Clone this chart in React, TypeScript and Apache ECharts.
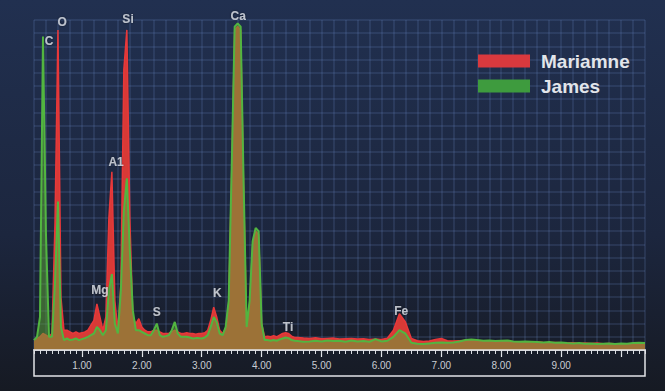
import React, { useEffect, useRef } from "react";
import * as echarts from "echarts";

// Energy channels (keV)
const ENERGY = [
  0.2, 0.25, 0.3, 0.35, 0.4, 0.45, 0.5, 0.55, 0.6, 0.65,
  0.7, 0.75, 0.8, 0.85, 0.9, 0.95, 1.0, 1.05, 1.1, 1.15,
  1.2, 1.25, 1.3, 1.35, 1.4, 1.45, 1.5, 1.55, 1.6, 1.65,
  1.7, 1.75, 1.8, 1.85, 1.9, 1.95, 2.0, 2.05, 2.1, 2.15,
  2.2, 2.25, 2.3, 2.35, 2.4, 2.45, 2.5, 2.55, 2.6, 2.65,
  2.7, 2.75, 2.8, 2.85, 2.9, 2.95, 3.0, 3.05, 3.1, 3.15,
  3.2, 3.25, 3.3, 3.35, 3.4, 3.45, 3.5, 3.55, 3.6, 3.65,
  3.7, 3.75, 3.8, 3.85, 3.9, 3.95, 4.0, 4.05, 4.1, 4.15,
  4.2, 4.25, 4.3, 4.35, 4.4, 4.45, 4.5, 4.55,
  4.6, 4.7, 4.8, 4.9, 5.0, 5.1, 5.2, 5.3, 5.4, 5.5,
  5.6, 5.7, 5.8, 5.9, 6.0, 6.1, 6.2, 6.3, 6.4, 6.5,
  6.6, 6.7, 6.8, 6.9, 7.0, 7.1, 7.2, 7.3, 7.4, 7.5,
  7.6, 7.7, 7.8, 7.9, 8.0, 8.1, 8.2, 8.3, 8.4, 8.5,
  8.6, 8.7, 8.8, 8.9, 9.0, 9.1, 9.2, 9.3, 9.4, 9.5,
  9.6, 9.7, 9.8, 9.9, 10.0, 10.1, 10.2, 10.3, 10.4,
];

const MARIAMNE = [
  3, 3.5, 4, 5, 4.5, 4, 5, 38, 97, 16,
  6, 6, 5.5, 5, 5.5, 5, 5.2, 5.5, 6, 7.5,
  9, 14, 10, 6, 10, 40, 54, 15, 6, 20,
  85, 97, 40, 10, 8, 9.5, 7, 6, 5.5, 5.5,
  6, 6, 5.5, 5, 5, 5, 5.5, 6, 5.5, 5,
  5, 5.2, 5, 5, 4.8, 5, 5, 5.2, 6, 9,
  13, 10, 6, 5, 6.5, 14, 54, 97, 98, 97,
  49, 6.5, 14, 32, 36, 35, 8, 4, 4.2, 4,
  4.3, 4, 4.5, 5, 5.2, 5, 4.2, 3.8,
  3.8, 3.6, 3.5, 3.7, 3.4, 3.5, 3.6, 3.3, 3.4, 3.5,
  3.3, 3.4, 3.2, 3.3, 3.2, 3.6, 6, 11, 8.5, 3.5,
  2.8, 2.6, 2.7, 3.2, 3.5, 2.8, 2.7, 2.8, 2.9, 2.8,
  2.7, 2.6, 2.6, 2.5, 2.6, 2.5, 2.4, 2.5, 2.4, 2.3,
  2.5, 2.3, 2.2, 2.3, 2.2, 2.1, 2.2, 2.0, 2.1, 2.0,
  2.1, 1.9, 2.0, 1.9, 1.8, 1.9, 1.8, 1.8, 1.8,
];

const JAMES = [
  3, 4, 10, 95, 35, 4, 4, 20, 45, 7,
  3, 3.5, 3, 3.2, 3.5, 3, 3.3, 3.6, 4, 4.5,
  5, 7, 6, 4.5, 6, 18, 23, 8, 5, 18,
  42, 52, 30, 12, 6, 6, 5.5, 5, 4.5, 4.5,
  6, 8, 4.5, 4, 4.2, 4.5, 6, 8.5, 5, 4,
  4, 4, 3.8, 3.5, 3.6, 3.6, 3.5, 3.8, 4.5, 7,
  10, 8.5, 5, 4.5, 7, 15, 55, 98, 99, 98,
  50, 7, 15, 33, 37, 36, 8, 3, 3, 2.8,
  3, 2.8, 3.2, 3.5, 3.8, 3.6, 3, 2.8,
  2.7, 2.5, 2.6, 2.8, 2.6, 2.9, 2.7, 2.8, 2.5, 2.9,
  2.6, 2.7, 2.5, 3.3, 2.6, 2.8, 4, 6, 5, 2.2,
  1.9, 1.8, 2, 2.2, 2.3, 2.2, 2.3, 2.6, 3.0, 3.2,
  3.0, 2.8, 2.9, 2.7, 2.8, 2.9, 2.6, 2.5, 2.6, 2.5,
  2.4, 2.3, 2.4, 2.2, 2.3, 2.1, 2.0, 2.1, 1.9, 2.0,
  1.8, 1.9, 2.0, 1.8, 2.0, 1.9, 2.1, 2.2, 2.1,
];

// Element labels (name, energy of label, height of label)
const PEAK_NAMES = ["C", "O", "Si", "Ca", "A1", "Mg", "S", "K", "Ti", "Fe"];
const PEAK_ENERGY = [0.45, 0.67, 1.77, 3.61, 1.57, 1.3, 2.25, 3.26, 4.44, 6.33];
const PEAK_LABEL_Y = [93.6, 99.4, 100.3, 101.2, 57, 18.2, 11.5, 17.3, 7, 11.8];

const TICK_LABELS = [1, 2, 3, 4, 5, 6, 7, 8, 9];
const MAJOR_TICKS = [1, 2, 3, 4, 5, 6, 7, 8, 9, 10];

const GRID_COLOR = "rgba(110,140,200,0.22)";
const FONT = "Liberation Sans, Arial, sans-serif";

export default function App() {
  const ref = useRef<HTMLDivElement>(null);

  useEffect(() => {
    document.body.style.margin = "0";
    const chart = echarts.init(ref.current!, null, { renderer: "svg" });
    const option: any = {
      animation: false,
      backgroundColor: {
        type: "linear",
        x: 0,
        y: 0,
        x2: 0,
        y2: 1,
        colorStops: [
          { offset: 0, color: "#213050" },
          { offset: 0.6, color: "#1c263e" },
          { offset: 1, color: "#161a23" },
        ],
      },
      grid: { left: 34, right: 20, top: 20, bottom: 41 },
      legend: {
        data: ["Mariamne", "James"],
        orient: "vertical",
        left: 473,
        top: 46,
        itemWidth: 52,
        itemHeight: 13,
        itemGap: 5,
        icon: "rect",
        textStyle: {
          color: "#e2e5ea",
          fontSize: 19,
          fontWeight: "bold",
          fontFamily: FONT,
          lineHeight: 20,
          padding: [0, 0, 0, 6],
        },
      },
      xAxis: [
        {
          type: "value",
          min: 0.2,
          max: 10.4,
          position: "bottom",
          axisLine: { show: true, lineStyle: { color: "#e4e6ea", width: 1.5 } },
          axisTick: {
            show: true,
            customValues: MAJOR_TICKS,
            length: 7,
            lineStyle: { color: "#e4e6ea", width: 1.2 },
          },
          axisLabel: {
            customValues: TICK_LABELS,
            formatter: (v: number) => v.toFixed(2),
            color: "#c9ccd3",
            fontSize: 10,
            margin: 10,
            fontFamily: FONT,
          },
          splitLine: { show: false },
        },
        {
          type: "value",
          min: 0.2,
          max: 10.4,
          interval: 0.2,
          position: "bottom",
          axisLine: { show: false },
          axisTick: { show: true, length: 4, lineStyle: { color: "#d8dbe0" } },
          minorTick: { show: true, splitNumber: 2, length: 4, lineStyle: { color: "#d8dbe0" } },
          axisLabel: { show: false },
          splitLine: { show: true, lineStyle: { color: GRID_COLOR, width: 1.5 } },
        },
      ],
      yAxis: {
        type: "value",
        min: 0,
        max: 100,
        interval: 4,
        axisLine: { show: false },
        axisTick: { show: false },
        axisLabel: { show: false },
        splitLine: { show: true, lineStyle: { color: GRID_COLOR, width: 1.5 } },
      },
      graphic: [
        {
          type: "rect",
          shape: { x: 34, y: 350, width: 611, height: 26 },
          style: { fill: "none", stroke: "#e2e4e8", lineWidth: 1.5 },
          z: 10,
        },
      ],
      series: [
        {
          name: "Mariamne",
          type: "line",
          xAxisIndex: 0,
          data: ENERGY.map((e, i) => [e, MARIAMNE[i]]),
          symbol: "none",
          lineStyle: { color: "#e8383a", width: 1.5 },
          itemStyle: { color: "#d9393e" },
          areaStyle: { color: "#d83a36", opacity: 1 },
          z: 2,
        },
        {
          name: "James",
          type: "line",
          xAxisIndex: 0,
          data: ENERGY.map((e, i) => [e, JAMES[i]]),
          symbol: "none",
          lineStyle: { color: "#52b540", width: 2 },
          itemStyle: { color: "#3e9b3e" },
          areaStyle: { color: "rgb(95,170,55)", opacity: 0.5 },
          z: 3,
        },
        {
          name: "labels",
          type: "scatter",
          xAxisIndex: 0,
          clip: false,
          silent: true,
          symbolSize: 1,
          itemStyle: { color: "rgba(0,0,0,0)" },
          data: PEAK_NAMES.map((n, i) => ({ name: n, value: [PEAK_ENERGY[i], PEAK_LABEL_Y[i]] })),
          label: {
            show: true,
            position: "inside",
            formatter: "{b}",
            color: "#dfe2e8",
            fontWeight: "bold",
            fontSize: 12,
            fontFamily: FONT,
            textShadowColor: "rgba(0,0,0,0.6)",
            textShadowBlur: 2,
          },
          z: 5,
        },
      ],
    };
    chart.setOption(option);
    return () => chart.dispose();
  }, []);

  return <div ref={ref} style={{ width: 665, height: 391 }} />;
}
